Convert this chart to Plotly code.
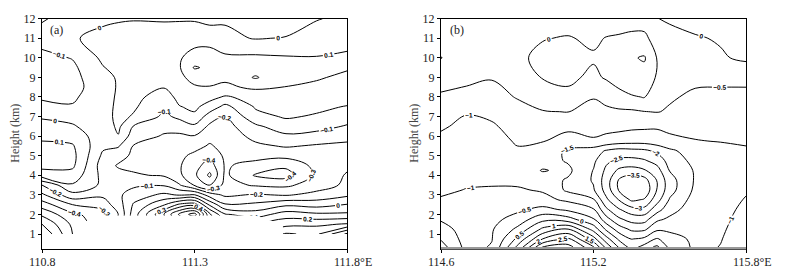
import plotly.graph_objects as go

N = None
# ---------------- Panel (a) ----------------
LON_A = [110.8, 110.9, 111.0, 111.05, 111.1, 111.2, 111.25, 111.3, 111.35, 111.4, 111.5, 111.6, 111.7, 111.8]
H_A = [1, 1.5, 2, 2.5, 3, 3.5, 4, 4.5, 5, 5.5, 6, 6.5, 7, 7.5, 8, 8.5, 9, 9.5, 10, 11, 12]

A_1108 = [-0.8, -0.7, -0.58, -0.45, -0.32, -0.2, 0.05, 0.13, 0.14, 0.12, 0.08, 0.03, -0.01, -0.07, -0.115, -0.14, -0.15, -0.15, -0.13, -0.06, -0.11]
A_1109 = [-0.5, -0.48, -0.42, -0.3, -0.13, -0.01, 0.06, 0.12, 0.13, 0.11, 0.06, 0.01, -0.03, -0.095, -0.11, -0.13, -0.13, -0.12, -0.095, -0.01, -0.06]
A_1110 = [N, N, -0.35, -0.25, -0.18, -0.12, -0.13, -0.15, -0.12, -0.08, -0.06, -0.06, -0.05, -0.06, -0.06, -0.05, -0.03, -0.005, 0.02, 0.03, -0.02]
A_11105 = [N, N, -0.2, -0.15, -0.12, -0.12, -0.17, -0.21, -0.16, -0.09, -0.005, 0.02, 0.03, 0.03, 0.02, 0.01, 0.01, 0.03, 0.04, 0.04, -0.01]
A_1111 = [N, N, 0.05, 0.01, -0.05, -0.12, -0.19, -0.22, -0.22, -0.205, -0.15, -0.105, -0.01, 0.015, 0.03, 0.04, 0.05, 0.05, 0.05, 0.04, -0.005]
A_1112 = [N, N, 0.4, 0.19, 0.02, -0.11, -0.21, -0.24, -0.25, -0.24, -0.21, -0.17, -0.12, -0.09, -0.05, 0.005, 0.05, 0.07, 0.07, 0.05, -0.01]
A_11125 = [N, N, 0.62, 0.32, -0.01, -0.19, -0.28, -0.29, -0.28, -0.26, -0.22, -0.15, -0.08, -0.005, 0.03, 0.05, 0.08, 0.09, 0.09, 0.06, -0.01]
A_1113 = [N, N, 0.75, 0.35, 0.005, -0.31, -0.38, -0.36, -0.32, -0.27, -0.205, -0.12, -0.02, 0.02, 0.05, 0.09, 0.13, 0.21, 0.14, 0.06, -0.01]
A_11135 = [N, N, 0.32, 0.08, -0.15, -0.41, -0.52, -0.45, -0.38, -0.31, -0.27, -0.22, -0.15, -0.04, 0.03, 0.095, 0.14, 0.18, 0.17, 0.04, -0.02]
A_1114 = [N, N, 0.11, -0.09, -0.22, -0.27, -0.28, -0.29, -0.28, -0.27, -0.26, -0.24, -0.205, -0.13, -0.01, 0.08, 0.12, 0.14, 0.12, 0.02, -0.01]
A_1115 = [N, N, 0.05, -0.08, -0.19, -0.31, -0.41, -0.33, -0.27, -0.22, -0.17, -0.12, -0.03, 0.01, 0.03, 0.12, 0.21, 0.15, 0.12, -0.005, -0.05]
A_1116 = [0.41, 0.27, 0.15, -0.02, -0.21, -0.32, -0.44, -0.38, -0.27, -0.19, -0.12, -0.04, 0.01, 0.03, 0.06, 0.098, 0.12, 0.12, 0.11, 0.005, -0.05]
A_1117 = [0.38, 0.28, 0.12, -0.04, -0.17, -0.25, -0.28, -0.27, -0.24, -0.21, -0.14, -0.06, -0.01, 0.02, 0.05, 0.08, 0.11, 0.12, 0.105, 0.04, -0.005]
A_1118 = [0.62, 0.31, 0.12, 0.005, -0.12, -0.18, -0.19, -0.22, -0.24, -0.22, -0.17, -0.11, -0.05, -0.005, 0.04, 0.06, 0.08, 0.11, 0.12, 0.06, 0.02]
COLS_A = [A_1108, A_1109, A_1110, A_11105, A_1111, A_1112, A_11125, A_1113, A_11135, A_1114, A_1115, A_1116, A_1117, A_1118]

# ---------------- Panel (b) ----------------
LON_B = [114.6, 114.7, 114.8, 114.9, 115.0, 115.1, 115.2, 115.25, 115.3, 115.35, 115.4, 115.45, 115.5, 115.6, 115.7, 115.8]
H_B = [0.25, 0.75, 1.25, 1.75, 2.25, 2.75, 3.25, 3.75, 4.25, 4.75, 5.25, 5.75, 6.5, 7.25, 8, 9, 10, 11, 12]

B_1146 = [0.3, -0.05, -0.3, -0.55, -0.75, -0.95, -1.1, -1.2, -1.2, -1.15, -1.15, -1.1, -0.95, -0.78, -0.55, -0.35, 0.01, -0.2, -0.2]
B_1147 = [-0.65, -0.7, -0.72, -0.78, -0.85, -0.9, -0.98, -1.1, -1.25, -1.3, -1.25, -1.2, -1.1, -0.97, -0.6, -0.42, -0.2, -0.3, -0.25]
B_1148 = [-0.45, -0.52, -0.55, -0.65, -0.75, -0.88, -0.97, -1.05, -1.15, -1.25, -1.25, -1.18, -1.05, -0.9, -0.62, -0.48, -0.3, -0.3, -0.2]
B_1149 = [1.2, 0.6, 0.1, -0.3, -0.6, -0.85, -0.95, -1.1, -1.2, -1.15, -1.05, -0.95, -0.85, -0.62, -0.48, -0.35, -0.08, -0.2, -0.05]
B_1150 = [3.2, 2.0, 1.1, 0.35, -0.35, -0.85, -1.05, -1.3, -1.53, -1.3, -1.15, -0.98, -0.78, -0.52, -0.3, 0.03, 0.1, -0.02, -0.15]
B_1151 = [3.3, 2.6, 1.5, 0.2, -0.6, -1.1, -1.6, -1.55, -1.4, -1.55, -1.6, -1.2, -0.88, -0.49, -0.12, 0.1, 0.2, 0.03, -0.2]
B_1152 = [2.2, 1.2, 0.3, -0.45, -0.95, -1.45, -1.95, -2.05, -2.02, -1.9, -1.75, -1.05, -0.85, -0.62, -0.48, -0.1, 0.05, -0.08, -0.25]
B_11525 = [1.0, 0.2, -0.6, -1.3, -1.9, -2.4, -2.7, -2.75, -2.6, -2.4, -2.05, -1.15, -0.85, -0.6, -0.35, 0.05, 0.15, 0.02, -0.25]
B_1153 = [0.05, -0.6, -1.25, -1.9, -2.45, -3.02, -3.55, -3.55, -3.1, -2.6, -2.2, -1.25, -0.85, -0.58, -0.15, 0.2, 0.25, 0.05, -0.2]
B_11535 = [-0.6, -1.02, -1.6, -2.2, -2.8, -3.6, -3.95, -3.85, -3.2, -2.65, -2.15, -1.3, -0.9, -0.57, -0.05, 0.4, 0.45, 0.08, -0.15]
B_1154 = [-0.2, -0.9, -1.6, -2.2, -2.85, -3.45, -3.9, -3.7, -3.05, -2.55, -2.1, -1.3, -0.92, -0.51, 0.02, 0.3, 0.55, 0.05, -0.1]
B_11545 = [0.2, -0.45, -1.1, -1.6, -2.2, -2.7, -2.97, -2.97, -2.7, -2.3, -1.9, -1.2, -0.95, -0.48, -0.2, -0.05, -0.02, -0.1, -0.02]
B_1155 = [-0.55, -0.8, -1.1, -1.4, -1.7, -1.95, -2.2, -2.2, -1.97, -1.8, -1.6, -1.1, -0.9, -0.55, -0.45, -0.35, -0.25, -0.25, 0.1]
B_1156 = [-1.1, -1.1, -1.12, -1.15, -1.2, -1.3, -1.4, -1.45, -1.45, -1.35, -1.25, -1.02, -0.85, -0.72, -0.58, -0.4, -0.25, -0.05, 0.2]
B_1157 = [-0.98, -1.02, -1.06, -1.1, -1.15, -1.2, -1.28, -1.32, -1.32, -1.26, -1.15, -0.98, -0.85, -0.72, -0.6, -0.4, -0.06, 0.05, 0.3]
B_1158 = [-0.7, -0.75, -0.8, -0.85, -0.9, -0.97, -1.05, -1.15, -1.2, -1.15, -1.05, -0.95, -0.85, -0.65, -0.58, -0.42, 0.1, 0.15, 0.35]
COLS_B = [B_1146, B_1147, B_1148, B_1149, B_1150, B_1151, B_1152, B_11525, B_1153, B_11535,
          B_1154, B_11545, B_1155, B_1156, B_1157, B_1158]

XTICK_A = [110.8, 111.3, 111.8]
XTEXT_A = ["110.8", "111.3", "111.8°E"]
XTICK_B = [114.6, 115.2, 115.8]
XTEXT_B = ["114.6", "115.2", "115.8°E"]
YTICKS = list(range(1, 13))


def rows(cols):
    return [[c[i] for c in cols] for i in range(len(cols[0]))]


W, H = 785, 275
SERIF = "Liberation Serif"
LABF = dict(size=6.5, color="black", family="Liberation Sans", weight="bold")
BLACK = [[0, "black"], [1, "black"]]

fig = go.Figure()
fig.add_trace(go.Contour(
    x=LON_A, y=H_A, z=rows(COLS_A), xaxis="x", yaxis="y",
    autocontour=False, colorscale=BLACK,
    contours=dict(coloring="lines", start=-1.0, end=1.0, size=0.1,
                  showlabels=True, labelfont=LABF),
    line=dict(width=1, smoothing=1.0),
    showscale=False, hoverinfo="skip"))
fig.add_trace(go.Contour(
    x=LON_B, y=H_B, z=rows(COLS_B), xaxis="x2", yaxis="y2",
    autocontour=False, colorscale=BLACK,
    contours=dict(coloring="lines", start=-4.0, end=4.0, size=0.5,
                  showlabels=True, labelfont=LABF),
    line=dict(width=1, smoothing=1.0),
    showscale=False, hoverinfo="skip"))

ydom = [1 - 248 / H, 1 - 12 / H]
axis_common = dict(showline=True, mirror=True, linecolor="black", linewidth=1,
                   showgrid=False, zeroline=False, ticks="outside", ticklen=3,
                   tickcolor="black",
                   tickfont=dict(family=SERIF, size=12, color="#222"))

fig.update_layout(
    width=W, height=H, margin=dict(l=0, r=0, t=0, b=0),
    paper_bgcolor="white", plot_bgcolor="white", showlegend=False,
    xaxis=dict(domain=[42 / W, 347 / W], range=[110.8, 111.8], tickmode="array",
               tickvals=XTICK_A, showticklabels=False, anchor="y", **axis_common),
    yaxis=dict(domain=ydom, range=[0.25, 12], tickmode="array", tickvals=YTICKS,
               anchor="x", **axis_common),
    xaxis2=dict(domain=[441 / W, 746 / W], range=[114.6, 115.8], tickmode="array",
                tickvals=XTICK_B, showticklabels=False, anchor="y2", **axis_common),
    yaxis2=dict(domain=ydom, range=[0.25, 12], tickmode="array", tickvals=YTICKS,
                anchor="x2", **axis_common),
)

ann = []
for xp in (15, 414):
    ann.append(dict(text="Height (km)", x=xp / W, y=1 - 130 / H, xref="paper", yref="paper",
                    textangle=-90, showarrow=False, xanchor="center", yanchor="middle",
                    font=dict(family=SERIF, size=12, color="#444")))
for txt, xp in (("(a)", 48), ("(b)", 448)):
    ann.append(dict(text=txt, x=xp / W, y=1 - 24 / H, xref="paper", yref="paper",
                    showarrow=False, xanchor="left", yanchor="middle",
                    font=dict(family=SERIF, size=12, color="#222")))
# x tick labels placed just under each axis
for xr, vals, texts in (("x", XTICK_A, XTEXT_A), ("x2", XTICK_B, XTEXT_B)):
    for v, t in zip(vals, texts):
        last = t.endswith("E")
        ann.append(dict(text=t, x=v, xref=xr, y=1 - 262 / H, yref="paper",
                        showarrow=False, yanchor="middle",
                        xanchor="left" if last else "center",
                        xshift=-15 if last else 0,
                        font=dict(family=SERIF, size=12, color="#222")))
fig.update_layout(annotations=ann)

fig.add_shape(type="line", xref="x2", yref="paper", x0=114.6, x1=115.8,
              y0=1 - 247.5 / H, y1=1 - 247.5 / H, line=dict(color="#999999", width=2.5))

fig.write_html("out.html", config={"displayModeBar": False},
               post_script="document.body.style.margin='0';document.body.style.padding='0';"
                           "document.documentElement.style.overflow='hidden';")
